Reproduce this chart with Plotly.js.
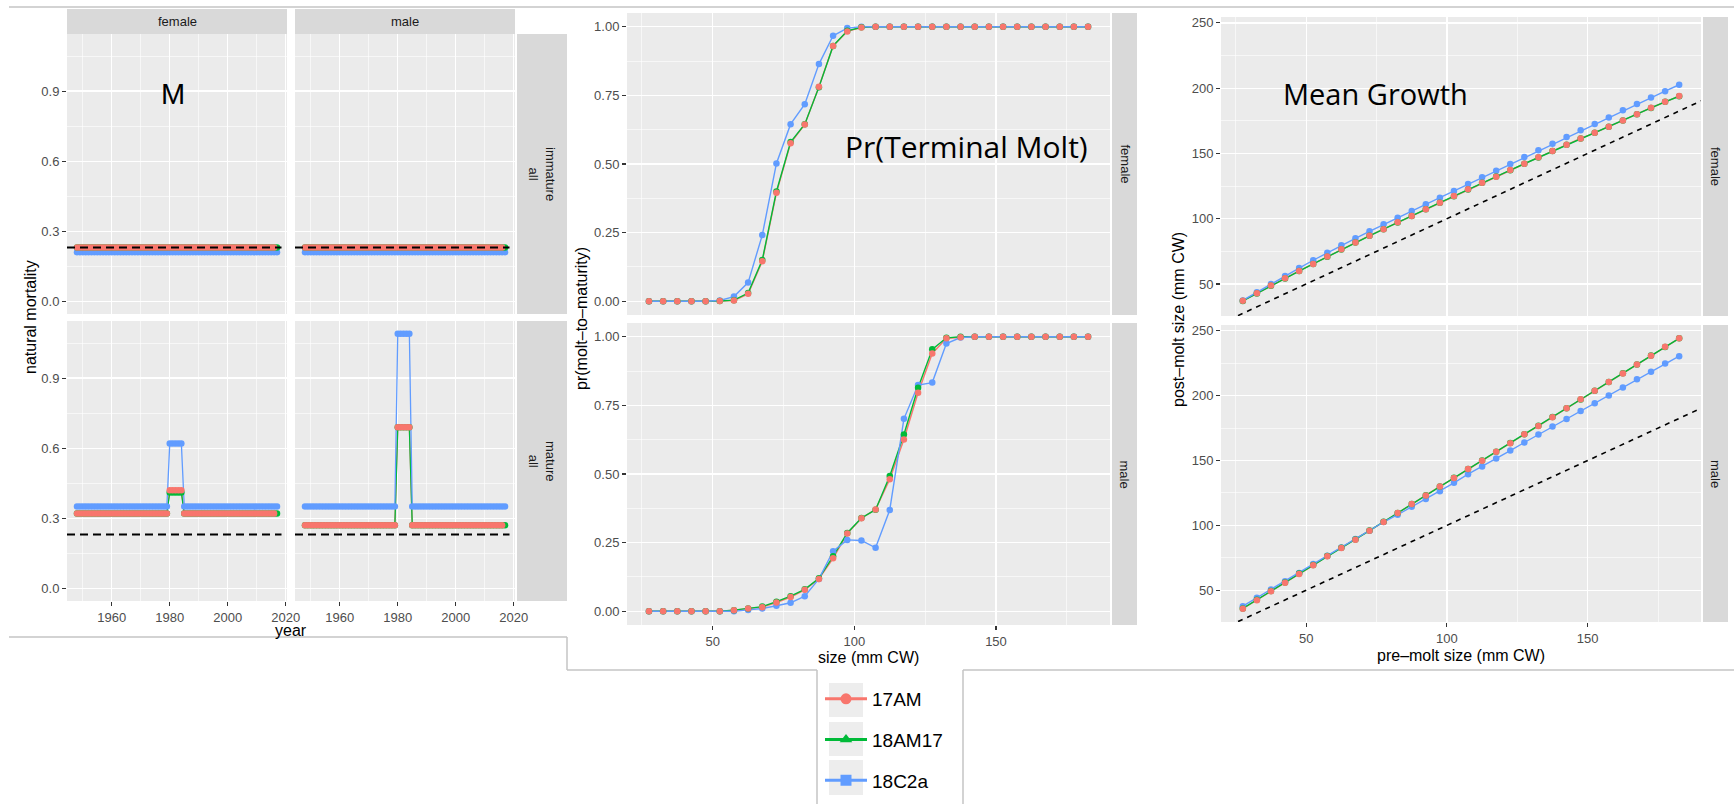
<!DOCTYPE html>
<html>
<head>
<meta charset="utf-8">
<script src="https://cdn.plot.ly/plotly-3.0.1.min.js"></script>
<style>
  html, body { margin: 0; padding: 0; background: #fff; }
  #charts { width: 1734px; height: 804px; }
</style>
</head>
<body>
<div id="charts"></div>
<script>
// ---- data ----
const years = [
  1948, 1949, 1950, 1951, 1952, 1953, 1954, 1955, 1956, 1957,
  1958, 1959, 1960, 1961, 1962, 1963, 1964, 1965, 1966, 1967,
  1968, 1969, 1970, 1971, 1972, 1973, 1974, 1975, 1976, 1977,
  1978, 1979, 1980, 1981, 1982, 1983, 1984, 1985, 1986, 1987,
  1988, 1989, 1990, 1991, 1992, 1993, 1994, 1995, 1996, 1997,
  1998, 1999, 2000, 2001, 2002, 2003, 2004, 2005, 2006, 2007,
  2008, 2009, 2010, 2011, 2012, 2013, 2014, 2015, 2016, 2017
];

// natural mortality, immature (same for female and male); 17AM ends in 2016
const mImm17 = [
  0.23, 0.23, 0.23, 0.23, 0.23, 0.23, 0.23, 0.23, 0.23, 0.23,
  0.23, 0.23, 0.23, 0.23, 0.23, 0.23, 0.23, 0.23, 0.23, 0.23,
  0.23, 0.23, 0.23, 0.23, 0.23, 0.23, 0.23, 0.23, 0.23, 0.23,
  0.23, 0.23, 0.23, 0.23, 0.23, 0.23, 0.23, 0.23, 0.23, 0.23,
  0.23, 0.23, 0.23, 0.23, 0.23, 0.23, 0.23, 0.23, 0.23, 0.23,
  0.23, 0.23, 0.23, 0.23, 0.23, 0.23, 0.23, 0.23, 0.23, 0.23,
  0.23, 0.23, 0.23, 0.23, 0.23, 0.23, 0.23, 0.23, 0.23
];
const mImm18 = [
  0.23, 0.23, 0.23, 0.23, 0.23, 0.23, 0.23, 0.23, 0.23, 0.23,
  0.23, 0.23, 0.23, 0.23, 0.23, 0.23, 0.23, 0.23, 0.23, 0.23,
  0.23, 0.23, 0.23, 0.23, 0.23, 0.23, 0.23, 0.23, 0.23, 0.23,
  0.23, 0.23, 0.23, 0.23, 0.23, 0.23, 0.23, 0.23, 0.23, 0.23,
  0.23, 0.23, 0.23, 0.23, 0.23, 0.23, 0.23, 0.23, 0.23, 0.23,
  0.23, 0.23, 0.23, 0.23, 0.23, 0.23, 0.23, 0.23, 0.23, 0.23,
  0.23, 0.23, 0.23, 0.23, 0.23, 0.23, 0.23, 0.23, 0.23, 0.23
];
const mImmC2a = [
  0.21, 0.21, 0.21, 0.21, 0.21, 0.21, 0.21, 0.21, 0.21, 0.21,
  0.21, 0.21, 0.21, 0.21, 0.21, 0.21, 0.21, 0.21, 0.21, 0.21,
  0.21, 0.21, 0.21, 0.21, 0.21, 0.21, 0.21, 0.21, 0.21, 0.21,
  0.21, 0.21, 0.21, 0.21, 0.21, 0.21, 0.21, 0.21, 0.21, 0.21,
  0.21, 0.21, 0.21, 0.21, 0.21, 0.21, 0.21, 0.21, 0.21, 0.21,
  0.21, 0.21, 0.21, 0.21, 0.21, 0.21, 0.21, 0.21, 0.21, 0.21,
  0.21, 0.21, 0.21, 0.21, 0.21, 0.21, 0.21, 0.21, 0.21, 0.21
];

// natural mortality, mature female
const mMatF17 = [
  0.32, 0.32, 0.32, 0.32, 0.32, 0.32, 0.32, 0.32, 0.32, 0.32,
  0.32, 0.32, 0.32, 0.32, 0.32, 0.32, 0.32, 0.32, 0.32, 0.32,
  0.32, 0.32, 0.32, 0.32, 0.32, 0.32, 0.32, 0.32, 0.32, 0.32,
  0.32, 0.32, 0.42, 0.42, 0.42, 0.42, 0.42, 0.32, 0.32, 0.32,
  0.32, 0.32, 0.32, 0.32, 0.32, 0.32, 0.32, 0.32, 0.32, 0.32,
  0.32, 0.32, 0.32, 0.32, 0.32, 0.32, 0.32, 0.32, 0.32, 0.32,
  0.32, 0.32, 0.32, 0.32, 0.32, 0.32, 0.32, 0.32, 0.32
];
const mMatF18 = [
  0.32, 0.32, 0.32, 0.32, 0.32, 0.32, 0.32, 0.32, 0.32, 0.32,
  0.32, 0.32, 0.32, 0.32, 0.32, 0.32, 0.32, 0.32, 0.32, 0.32,
  0.32, 0.32, 0.32, 0.32, 0.32, 0.32, 0.32, 0.32, 0.32, 0.32,
  0.32, 0.32, 0.41, 0.41, 0.41, 0.41, 0.41, 0.32, 0.32, 0.32,
  0.32, 0.32, 0.32, 0.32, 0.32, 0.32, 0.32, 0.32, 0.32, 0.32,
  0.32, 0.32, 0.32, 0.32, 0.32, 0.32, 0.32, 0.32, 0.32, 0.32,
  0.32, 0.32, 0.32, 0.32, 0.32, 0.32, 0.32, 0.32, 0.32, 0.32
];
const mMatFC2a = [
  0.35, 0.35, 0.35, 0.35, 0.35, 0.35, 0.35, 0.35, 0.35, 0.35,
  0.35, 0.35, 0.35, 0.35, 0.35, 0.35, 0.35, 0.35, 0.35, 0.35,
  0.35, 0.35, 0.35, 0.35, 0.35, 0.35, 0.35, 0.35, 0.35, 0.35,
  0.35, 0.35, 0.62, 0.62, 0.62, 0.62, 0.62, 0.35, 0.35, 0.35,
  0.35, 0.35, 0.35, 0.35, 0.35, 0.35, 0.35, 0.35, 0.35, 0.35,
  0.35, 0.35, 0.35, 0.35, 0.35, 0.35, 0.35, 0.35, 0.35, 0.35,
  0.35, 0.35, 0.35, 0.35, 0.35, 0.35, 0.35, 0.35, 0.35, 0.35
];

// natural mortality, mature male
const mMatM17 = [
  0.27, 0.27, 0.27, 0.27, 0.27, 0.27, 0.27, 0.27, 0.27, 0.27,
  0.27, 0.27, 0.27, 0.27, 0.27, 0.27, 0.27, 0.27, 0.27, 0.27,
  0.27, 0.27, 0.27, 0.27, 0.27, 0.27, 0.27, 0.27, 0.27, 0.27,
  0.27, 0.27, 0.69, 0.69, 0.69, 0.69, 0.69, 0.27, 0.27, 0.27,
  0.27, 0.27, 0.27, 0.27, 0.27, 0.27, 0.27, 0.27, 0.27, 0.27,
  0.27, 0.27, 0.27, 0.27, 0.27, 0.27, 0.27, 0.27, 0.27, 0.27,
  0.27, 0.27, 0.27, 0.27, 0.27, 0.27, 0.27, 0.27, 0.27
];
const mMatM18 = [
  0.27, 0.27, 0.27, 0.27, 0.27, 0.27, 0.27, 0.27, 0.27, 0.27,
  0.27, 0.27, 0.27, 0.27, 0.27, 0.27, 0.27, 0.27, 0.27, 0.27,
  0.27, 0.27, 0.27, 0.27, 0.27, 0.27, 0.27, 0.27, 0.27, 0.27,
  0.27, 0.27, 0.69, 0.69, 0.69, 0.69, 0.69, 0.27, 0.27, 0.27,
  0.27, 0.27, 0.27, 0.27, 0.27, 0.27, 0.27, 0.27, 0.27, 0.27,
  0.27, 0.27, 0.27, 0.27, 0.27, 0.27, 0.27, 0.27, 0.27, 0.27,
  0.27, 0.27, 0.27, 0.27, 0.27, 0.27, 0.27, 0.27, 0.27, 0.27
];
const mMatMC2a = [
  0.35, 0.35, 0.35, 0.35, 0.35, 0.35, 0.35, 0.35, 0.35, 0.35,
  0.35, 0.35, 0.35, 0.35, 0.35, 0.35, 0.35, 0.35, 0.35, 0.35,
  0.35, 0.35, 0.35, 0.35, 0.35, 0.35, 0.35, 0.35, 0.35, 0.35,
  0.35, 0.35, 1.09, 1.09, 1.09, 1.09, 1.09, 0.35, 0.35, 0.35,
  0.35, 0.35, 0.35, 0.35, 0.35, 0.35, 0.35, 0.35, 0.35, 0.35,
  0.35, 0.35, 0.35, 0.35, 0.35, 0.35, 0.35, 0.35, 0.35, 0.35,
  0.35, 0.35, 0.35, 0.35, 0.35, 0.35, 0.35, 0.35, 0.35, 0.35
];
const mRef = 0.23;

// size bins (mm CW)
const sizeBins = [
  27.5, 32.5, 37.5, 42.5, 47.5, 52.5, 57.5, 62.5, 67.5, 72.5, 77.5,
  82.5, 87.5, 92.5, 97.5, 102.5, 107.5, 112.5, 117.5, 122.5, 127.5, 132.5,
  137.5, 142.5, 147.5, 152.5, 157.5, 162.5, 167.5, 172.5, 177.5, 182.5
];

// pr(molt-to-maturity)
const moltF17 = [0, 0, 0, 0, 0, 0.001, 0.003, 0.027, 0.146, 0.395, 0.576, 0.644, 0.781, 0.930, 0.983, 0.997,
  1, 1, 1, 1, 1, 1, 1, 1, 1, 1, 1, 1, 1, 1, 1, 1];
const moltF18 = [0, 0, 0, 0, 0, 0.001, 0.004, 0.030, 0.150, 0.400, 0.580, 0.645, 0.780, 0.930, 0.985, 0.998,
  1, 1, 1, 1, 1, 1, 1, 1, 1, 1, 1, 1, 1, 1, 1, 1];
const moltFC2a = [0, 0, 0, 0, 0, 0.003, 0.017, 0.068, 0.241, 0.502, 0.645, 0.718, 0.864, 0.967, 0.995, 1,
  1, 1, 1, 1, 1, 1, 1, 1, 1, 1, 1, 1, 1, 1, 1, 1];
const moltM17 = [0, 0, 0, 0, 0, 0, 0.004, 0.010, 0.015, 0.032, 0.052, 0.078, 0.118, 0.193, 0.283, 0.339,
  0.371, 0.481, 0.626, 0.796, 0.939, 0.994, 0.998, 1, 1, 1, 1, 1, 1, 1, 1, 1];
const moltM18 = [0, 0, 0, 0, 0, 0, 0.004, 0.010, 0.017, 0.035, 0.055, 0.080, 0.120, 0.200, 0.285, 0.340,
  0.370, 0.493, 0.644, 0.814, 0.954, 0.996, 1, 1, 1, 1, 1, 1, 1, 1, 1, 1];
const moltMC2a = [0, 0, 0, 0, 0, 0, 0, 0.005, 0.010, 0.020, 0.031, 0.055, 0.118, 0.219, 0.260, 0.258,
  0.231, 0.369, 0.701, 0.824, 0.833, 0.975, 0.997, 1, 1, 1, 1, 1, 1, 1, 1, 1];

// mean post-molt size (mm CW)
const growF17 = [37.1, 42.9, 48.8, 54.4, 60.0, 65.4, 71.0, 76.6, 81.7, 87.0, 92.0, 97.3, 102.1, 107.2, 112.3, 117.4,
  122.5, 127.6, 132.2, 137.3, 142.1, 147.0, 151.8, 156.7, 161.5, 165.8, 170.4, 175.3, 180.1, 185.0, 189.6, 193.9];
const growF18 = [37.0, 42.8, 48.7, 54.3, 59.9, 65.4, 70.9, 76.5, 81.7, 86.9, 92.0, 97.2, 102.1, 107.2, 112.3, 117.3,
  122.4, 127.5, 132.3, 137.2, 142.1, 146.9, 151.8, 156.6, 161.4, 165.9, 170.5, 175.2, 180.0, 184.9, 189.5, 193.8];
const growFC2a = [37.4, 43.7, 50.0, 56.2, 62.2, 68.2, 74.0, 79.6, 85.0, 90.4, 95.7, 100.8, 105.9, 111.0, 116.1, 121.2,
  126.6, 131.7, 136.8, 141.9, 147.2, 152.4, 157.4, 162.5, 167.7, 172.5, 177.6, 183.0, 187.8, 192.9, 197.7, 202.6];
const growM17 = [35.7, 42.3, 49.2, 55.7, 62.6, 69.2, 76.2, 82.6, 89.0, 95.9, 102.6, 109.5, 116.5, 123.1, 130.0, 136.5,
  143.4, 149.8, 156.7, 163.4, 170.3, 176.7, 183.4, 190.3, 197.2, 203.8, 210.5, 217.2, 224.1, 230.8, 237.7, 244.2];
const growM18 = [36.0, 42.6, 49.4, 56.0, 62.8, 69.4, 76.3, 82.8, 89.2, 96.0, 102.8, 109.6, 116.5, 123.2, 130.0, 136.7,
  143.5, 150.0, 156.8, 163.5, 170.3, 176.9, 183.5, 190.3, 197.1, 203.8, 210.6, 217.3, 224.1, 230.9, 237.6, 244.2];
const growMC2a = [37.7, 44.2, 50.5, 56.9, 63.3, 70.2, 76.6, 83.0, 89.5, 95.9, 102.6, 108.2, 114.4, 120.3, 126.4, 132.8,
  139.5, 145.4, 151.5, 157.7, 163.9, 170.0, 176.2, 182.1, 188.2, 194.1, 200.2, 206.4, 212.6, 218.5, 224.9, 230.5];
const oneToOne = [0, 300];

const modelNames = ["17AM", "18AM17", "18C2a"];

// ---- drawing ----
document.addEventListener("DOMContentLoaded", function () {
  const W = 1734, H = 804;
  const red = "#F8766D", green = "#00BA38", blue = "#619CFF";
  const colours = [red, green, blue];
  const font = "Liberation Sans, Arial, sans-serif";

  function px(x) { return x / W; }
  function py(y) { return 1 - y / H; }
  function id(n) { return n === 1 ? "" : String(n); }

  // panel boxes in pixels: left, right, top, bottom
  const boxes = {
    1: [67, 287, 34, 314],
    2: [295, 515, 34, 314],
    3: [67, 287, 321, 601],
    4: [295, 515, 321, 601],
    5: [627, 1110, 13, 315],
    6: [627, 1110, 323, 625],
    7: [1221, 1701, 17, 316],
    8: [1221, 1701, 325, 622]
  };

  const baseAxis = {
    showgrid: true, gridcolor: "#ffffff", gridwidth: 1.3,
    zeroline: false, showline: false,
    ticks: "outside", ticklen: 4, tickwidth: 1.1, tickcolor: "#333333",
    tickfont: { family: font, size: 13, color: "#4D4D4D" },
    fixedrange: true
  };

  const layout = {
    width: W, height: H,
    margin: { l: 0, r: 0, t: 0, b: 0 },
    paper_bgcolor: "#ffffff",
    plot_bgcolor: "#EBEBEB",
    showlegend: true,
    legend: {
      x: px(820), y: py(680), xanchor: "left", yanchor: "top",
      bgcolor: "rgba(0,0,0,0)", borderwidth: 0,
      font: { family: font, size: 19, color: "#000000" },
      tracegroupgap: 13, itemwidth: 42
    },
    shapes: [],
    annotations: []
  };

  const xSets = {
    m: { range: [1944.55, 2020.45], dtick: 20, tick0: 1960, minor: { dtick: 10, tick0: 1950, showgrid: true, gridcolor: "#ffffff", gridwidth: 0.6 } },
    s: { range: [19.75, 190.25], dtick: 50, tick0: 0, minor: { dtick: 25, tick0: 0, showgrid: true, gridcolor: "#ffffff", gridwidth: 0.6 } }
  };
  const ySets = {
    m: { range: [-0.0545, 1.1445], dtick: 0.3, tick0: 0, tickformat: ".1f", minor: { dtick: 0.15, tick0: 0, showgrid: true, gridcolor: "#ffffff", gridwidth: 0.6 } },
    p: { range: [-0.05, 1.05], dtick: 0.25, tick0: 0, tickformat: ".2f", minor: { dtick: 0.125, tick0: 0, showgrid: true, gridcolor: "#ffffff", gridwidth: 0.6 } },
    g: { range: [25.5, 254.5], dtick: 50, tick0: 0, minor: { dtick: 25, tick0: 0, showgrid: true, gridcolor: "#ffffff", gridwidth: 0.6 } }
  };

  function addAxes(n, xs, ys, xLabels, yLabels) {
    const b = boxes[n];
    const xa = Object.assign({}, baseAxis, xSets[xs], {
      domain: [px(b[0]), px(b[1])], anchor: "y" + id(n),
      showticklabels: xLabels, ticks: xLabels ? "outside" : ""
    });
    const ya = Object.assign({}, baseAxis, ySets[ys], {
      domain: [py(b[3]), py(b[2])], anchor: "x" + id(n),
      showticklabels: yLabels, ticks: yLabels ? "outside" : ""
    });
    layout["xaxis" + id(n)] = xa;
    layout["yaxis" + id(n)] = ya;
  }

  addAxes(1, "m", "m", false, true);
  addAxes(2, "m", "m", false, false);
  addAxes(3, "m", "m", true, true);
  addAxes(4, "m", "m", true, false);
  addAxes(5, "s", "p", false, true);
  addAxes(6, "s", "p", true, true);
  addAxes(7, "s", "g", false, true);
  addAxes(8, "s", "g", true, true);

  const data = [];

  // series: array of [x, y] per model (17AM, 18AM17, 18C2a)
  function addPanel(n, series, lw, ms) {
    // lines first, then points (blue, green, red on top)
    series.forEach(function (s, i) {
      data.push({
        x: s[0], y: s[1], xaxis: "x" + id(n), yaxis: "y" + id(n),
        mode: "lines", line: { color: colours[i], width: lw },
        showlegend: false, hoverinfo: "skip"
      });
    });
    [2, 1, 0].forEach(function (i) {
      const s = series[i];
      data.push({
        x: s[0], y: s[1], xaxis: "x" + id(n), yaxis: "y" + id(n),
        mode: "markers", marker: { color: colours[i], size: ms },
        showlegend: false, hoverinfo: "skip"
      });
    });
  }

  function yrs(arr) { return years.slice(0, arr.length); }

  addPanel(1, [[yrs(mImm17), mImm17], [yrs(mImm18), mImm18], [yrs(mImmC2a), mImmC2a]], 1.3, 6.5);
  addPanel(2, [[yrs(mImm17), mImm17], [yrs(mImm18), mImm18], [yrs(mImmC2a), mImmC2a]], 1.3, 6.5);
  addPanel(3, [[yrs(mMatF17), mMatF17], [yrs(mMatF18), mMatF18], [yrs(mMatFC2a), mMatFC2a]], 1.3, 6.5);
  addPanel(4, [[yrs(mMatM17), mMatM17], [yrs(mMatM18), mMatM18], [yrs(mMatMC2a), mMatMC2a]], 1.3, 6.5);
  addPanel(5, [[sizeBins, moltF17], [sizeBins, moltF18], [sizeBins, moltFC2a]], 1.4, 6.5);
  addPanel(6, [[sizeBins, moltM17], [sizeBins, moltM18], [sizeBins, moltMC2a]], 1.4, 6.5);

  // 1:1 reference line in growth panels
  [7, 8].forEach(function (n) {
    data.push({
      x: oneToOne, y: oneToOne, xaxis: "x" + id(n), yaxis: "y" + id(n),
      mode: "lines", line: { color: "#000000", width: 1.6, dash: "5px,5px" },
      showlegend: false, hoverinfo: "skip"
    });
  });
  addPanel(7, [[sizeBins, growF17], [sizeBins, growF18], [sizeBins, growFC2a]], 1.4, 6.5);
  addPanel(8, [[sizeBins, growM17], [sizeBins, growM18], [sizeBins, growMC2a]], 1.4, 6.5);

  // legend entries
  const symbols = ["circle", "triangle-up", "square"];
  modelNames.forEach(function (name, i) {
    data.push({
      x: [null], y: [null], name: name, legendgroup: name,
      mode: "lines+markers",
      line: { color: colours[i], width: 3 },
      marker: { color: colours[i], size: 11, symbol: symbols[i] },
      hoverinfo: "skip"
    });
  });

  // reference M (dashed) in the mortality panels
  [1, 2, 3, 4].forEach(function (n) {
    layout.shapes.push({
      type: "line", xref: "x" + id(n) + " domain", yref: "y" + id(n),
      x0: 0, x1: 0.975, y0: mRef, y1: mRef,
      line: { color: "#000000", width: 2, dash: "8px,5px" }
    });
  });

  // text placed in pixel terms, always centred on its point
  function text(x, y, str, angle, size, colour, family, xanchor) {
    layout.annotations.push({
      xref: "paper", yref: "paper", x: px(x), y: py(y),
      xanchor: xanchor || "center", yanchor: "middle",
      text: str, showarrow: false, textangle: angle,
      font: { family: family || font, size: size, color: colour }
    });
  }

  // facet strips
  function strip(l, r, t, b, str, angle) {
    layout.shapes.push({
      type: "rect", xref: "paper", yref: "paper",
      x0: px(l), x1: px(r), y0: py(b), y1: py(t),
      fillcolor: "#D9D9D9", line: { width: 0 }, layer: "below"
    });
    text((l + r) / 2, (t + b) / 2, str, angle, 13, "#1A1A1A");
  }
  strip(67, 287, 9, 34, "female", 0);
  strip(295, 515, 9, 34, "male", 0);
  strip(517, 567, 34, 314, "immature<br>all", 90);
  strip(517, 567, 321, 601, "mature<br>all", 90);
  strip(1112, 1137, 13, 315, "female", 90);
  strip(1112, 1137, 323, 625, "male", 90);
  strip(1703, 1728, 17, 316, "female", 90);
  strip(1703, 1728, 325, 622, "male", 90);

  // legend key backgrounds
  [[683, 717], [722, 756], [760, 795]].forEach(function (k) {
    layout.shapes.push({
      type: "rect", xref: "paper", yref: "paper",
      x0: px(829), x1: px(863), y0: py(k[1]), y1: py(k[0]),
      fillcolor: "#EDEDED", line: { width: 0 }
    });
  });

  // thin grey frame lines of the pasted figures
  function rule(x0, y0, x1, y1) {
    layout.shapes.push({
      type: "line", xref: "paper", yref: "paper",
      x0: px(x0), x1: px(x1), y0: py(y0), y1: py(y1),
      line: { color: "#C4C4C4", width: 1.5 }
    });
  }
  rule(9, 7, 1734, 7);
  rule(9, 637, 567, 637);
  rule(567, 637, 567, 670);
  rule(567, 670, 817, 670);
  rule(963, 670, 1734, 670);
  rule(817, 670, 817, 804);
  rule(963, 670, 963, 804);

  // axis titles
  text(291, 630, "year", 0, 16, "#000000");
  text(30, 317, "natural mortality", -90, 16, "#000000");
  text(868, 657, "size (mm CW)", 0, 16, "#000000");
  text(582, 319, "pr(molt\u2013to\u2013maturity)", -90, 16, "#000000");
  text(1461, 655, "pre\u2013molt size (mm CW)", 0, 16, "#000000");
  text(1178, 320, "post\u2013molt size (mm CW)", -90, 16, "#000000");

  // panel captions
  text(173, 94, "M", 0, 29, "#000000");
  text(843, 146, "Pr(Terminal Molt)", 0, 30, "#000000", "Open Sans, sans-serif", "left");
  text(1281, 93, "Mean Growth", 0, 29, "#000000", "Open Sans, sans-serif", "left");

  Plotly.newPlot("charts", data, layout, { displayModeBar: false, staticPlot: true });
});
</script>
</body>
</html>
